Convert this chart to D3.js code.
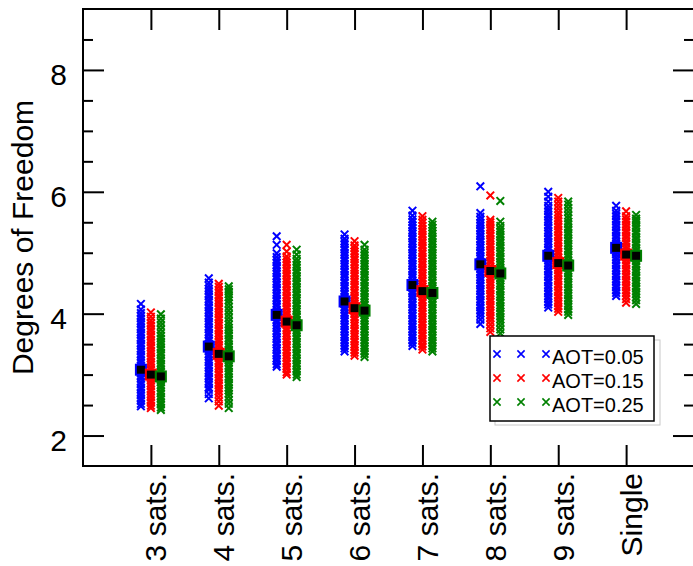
<!DOCTYPE html>
<html>
<head>
<meta charset="utf-8">
<script src="https://cdn.jsdelivr.net/npm/d3@7"></script>
<style>
  html, body { margin: 0; padding: 0; background: #fff; }
  svg { display: block; font-family: "Liberation Sans", Arial, Helvetica, sans-serif; }
</style>
</head>
<body>
<svg id="chart" width="693" height="566"></svg>
<script>
// kategorije in legenda
const categories = ["3 sats.", "4 sats.", "5 sats.", "6 sats.", "7 sats.", "8 sats.", "9 sats.", "Single"];
const aotLabels = ["AOT=0.05", "AOT=0.15", "AOT=0.25"];
const aotColors = ["#0000ff", "#ff0000", "#008000"];

// povprecja (crni kvadratki)
const meanAot05 = [3.08, 3.46, 3.98, 4.20, 4.47, 4.81, 4.95, 5.08];
const meanAot15 = [3.00, 3.34, 3.87, 4.09, 4.37, 4.70, 4.83, 4.97];
const meanAot25 = [2.97, 3.30, 3.81, 4.05, 4.34, 4.66, 4.79, 4.95];

// posamezne tocke, en seznam za vsako kategorijo
const dofAot05 = [
  [2.48,2.52,2.57,2.61,2.66,2.70,2.75,2.79,2.84,2.88,2.93,2.97,3.02,3.06,3.11,3.15,3.20,3.24,3.29,3.33,3.38,3.42,3.47,3.51,3.56,3.60,3.65,3.69,3.74,3.78,3.83,3.87,3.92,3.96,4.01,4.07,4.16],
  [2.61,2.68,2.75,2.79,2.84,2.88,2.93,2.97,3.02,3.06,3.11,3.15,3.20,3.24,3.29,3.33,3.38,3.42,3.47,3.51,3.56,3.60,3.65,3.69,3.74,3.78,3.83,3.87,3.92,3.96,4.01,4.05,4.10,4.14,4.19,4.23,4.28,4.32,4.37,4.41,4.46,4.51,4.58],
  [3.13,3.17,3.22,3.26,3.31,3.35,3.40,3.44,3.49,3.53,3.58,3.62,3.67,3.71,3.76,3.80,3.85,3.89,3.94,3.98,4.03,4.07,4.12,4.16,4.21,4.25,4.30,4.34,4.39,4.43,4.48,4.52,4.57,4.61,4.66,4.70,4.75,4.79,4.84,4.88,4.93,4.99,5.13,5.27],
  [3.38,3.43,3.47,3.52,3.56,3.61,3.65,3.70,3.74,3.79,3.83,3.88,3.92,3.97,4.01,4.06,4.10,4.15,4.19,4.24,4.28,4.33,4.37,4.42,4.46,4.51,4.55,4.60,4.64,4.69,4.73,4.78,4.82,4.87,4.91,4.96,5.00,5.05,5.09,5.14,5.18,5.23,5.30],
  [3.47,3.52,3.56,3.61,3.65,3.70,3.74,3.79,3.83,3.88,3.92,3.97,4.01,4.06,4.10,4.15,4.19,4.24,4.28,4.33,4.37,4.42,4.46,4.51,4.55,4.60,4.64,4.69,4.73,4.78,4.82,4.87,4.91,4.96,5.00,5.05,5.09,5.14,5.18,5.23,5.27,5.32,5.36,5.41,5.45,5.50,5.55,5.61,5.69],
  [3.83,3.90,3.96,4.01,4.05,4.10,4.14,4.19,4.23,4.28,4.32,4.37,4.41,4.46,4.50,4.55,4.59,4.64,4.68,4.73,4.77,4.82,4.86,4.91,4.95,5.00,5.04,5.09,5.13,5.18,5.22,5.27,5.31,5.36,5.40,5.45,5.49,5.54,5.59,5.65,6.09],
  [4.10,4.15,4.19,4.24,4.28,4.33,4.37,4.42,4.46,4.51,4.55,4.60,4.64,4.69,4.73,4.78,4.82,4.87,4.91,4.96,5.00,5.05,5.09,5.14,5.18,5.23,5.27,5.32,5.36,5.41,5.45,5.50,5.54,5.59,5.63,5.68,5.72,5.77,5.84,5.92,6.00],
  [4.29,4.34,4.38,4.43,4.47,4.52,4.56,4.61,4.65,4.70,4.74,4.79,4.83,4.88,4.92,4.97,5.01,5.06,5.10,5.15,5.19,5.24,5.28,5.33,5.37,5.42,5.46,5.51,5.55,5.60,5.64,5.69,5.77]
];
const dofAot15 = [
  [2.45,2.49,2.54,2.58,2.63,2.67,2.72,2.76,2.81,2.85,2.90,2.94,2.99,3.03,3.08,3.12,3.17,3.21,3.26,3.30,3.35,3.39,3.44,3.48,3.53,3.57,3.62,3.66,3.71,3.75,3.80,3.84,3.89,3.95,4.02],
  [2.49,2.56,2.62,2.68,2.73,2.77,2.82,2.86,2.91,2.95,3.00,3.04,3.09,3.13,3.18,3.22,3.27,3.31,3.36,3.40,3.45,3.49,3.54,3.58,3.63,3.67,3.72,3.76,3.81,3.85,3.90,3.94,3.99,4.03,4.08,4.12,4.17,4.21,4.26,4.30,4.35,4.39,4.44,4.49],
  [3.00,3.04,3.09,3.13,3.18,3.22,3.27,3.31,3.36,3.40,3.45,3.49,3.54,3.58,3.63,3.67,3.72,3.76,3.81,3.85,3.90,3.94,3.99,4.03,4.08,4.12,4.17,4.21,4.26,4.30,4.35,4.39,4.44,4.48,4.53,4.57,4.62,4.66,4.71,4.75,4.80,4.84,4.89,4.94,5.02,5.13],
  [3.31,3.36,3.40,3.45,3.49,3.54,3.58,3.63,3.67,3.72,3.76,3.81,3.85,3.90,3.94,3.99,4.03,4.08,4.12,4.17,4.21,4.26,4.30,4.35,4.39,4.44,4.48,4.53,4.57,4.62,4.66,4.71,4.75,4.80,4.84,4.89,4.93,4.98,5.02,5.07,5.12,5.19],
  [3.41,3.46,3.50,3.55,3.59,3.64,3.68,3.73,3.77,3.82,3.86,3.91,3.95,4.00,4.04,4.09,4.13,4.18,4.22,4.27,4.31,4.36,4.40,4.45,4.49,4.54,4.58,4.63,4.67,4.72,4.76,4.81,4.85,4.90,4.94,4.99,5.03,5.08,5.12,5.17,5.21,5.26,5.30,5.35,5.39,5.44,5.49,5.54,5.60],
  [3.70,3.76,3.82,3.88,3.93,3.97,4.02,4.06,4.11,4.15,4.20,4.24,4.29,4.33,4.38,4.42,4.47,4.51,4.56,4.60,4.65,4.69,4.74,4.78,4.83,4.87,4.92,4.96,5.01,5.05,5.10,5.14,5.19,5.23,5.28,5.32,5.37,5.41,5.46,5.50,5.54,5.94],
  [4.03,4.08,4.12,4.17,4.21,4.26,4.30,4.35,4.39,4.44,4.48,4.53,4.57,4.62,4.66,4.71,4.75,4.80,4.84,4.89,4.93,4.98,5.02,5.07,5.11,5.16,5.20,5.25,5.29,5.34,5.38,5.43,5.47,5.52,5.56,5.61,5.66,5.72,5.78,5.84,5.90],
  [4.18,4.24,4.29,4.34,4.38,4.43,4.47,4.52,4.56,4.61,4.65,4.70,4.74,4.79,4.83,4.88,4.92,4.97,5.01,5.06,5.10,5.15,5.19,5.24,5.28,5.33,5.37,5.42,5.46,5.51,5.55,5.60,5.68]
];
const dofAot25 = [
  [2.42,2.46,2.51,2.55,2.60,2.64,2.69,2.73,2.78,2.82,2.87,2.91,2.96,3.00,3.05,3.09,3.14,3.18,3.23,3.27,3.32,3.36,3.41,3.45,3.50,3.54,3.59,3.63,3.68,3.74,3.80,3.86,3.92,3.99],
  [2.45,2.52,2.58,2.64,2.69,2.74,2.78,2.83,2.87,2.92,2.96,3.01,3.05,3.10,3.14,3.19,3.23,3.28,3.32,3.37,3.41,3.46,3.50,3.55,3.59,3.64,3.68,3.73,3.77,3.82,3.87,3.93,3.99,4.05,4.11,4.17,4.22,4.27,4.32,4.36,4.40,4.45],
  [2.96,3.00,3.05,3.09,3.14,3.18,3.23,3.27,3.32,3.36,3.41,3.45,3.50,3.54,3.59,3.63,3.68,3.72,3.77,3.81,3.86,3.90,3.95,3.99,4.04,4.08,4.13,4.17,4.22,4.26,4.31,4.35,4.40,4.44,4.49,4.53,4.58,4.62,4.67,4.71,4.76,4.80,4.85,4.90,4.97,5.05],
  [3.29,3.34,3.38,3.43,3.47,3.52,3.56,3.61,3.65,3.70,3.74,3.79,3.83,3.88,3.92,3.97,4.01,4.06,4.10,4.15,4.19,4.24,4.28,4.33,4.37,4.42,4.46,4.51,4.55,4.60,4.64,4.69,4.73,4.78,4.82,4.87,4.91,4.96,5.00,5.05,5.13],
  [3.38,3.43,3.47,3.52,3.56,3.61,3.65,3.70,3.74,3.79,3.83,3.88,3.92,3.97,4.01,4.06,4.10,4.15,4.19,4.24,4.28,4.33,4.37,4.42,4.46,4.51,4.55,4.60,4.64,4.69,4.73,4.78,4.82,4.87,4.91,4.96,5.00,5.05,5.09,5.14,5.18,5.23,5.27,5.32,5.36,5.41,5.46,5.51],
  [3.68,3.74,3.80,3.86,3.91,3.95,4.00,4.04,4.09,4.13,4.18,4.22,4.27,4.31,4.36,4.40,4.45,4.49,4.54,4.58,4.63,4.67,4.72,4.76,4.81,4.85,4.90,4.94,4.99,5.03,5.08,5.12,5.17,5.21,5.26,5.30,5.35,5.39,5.44,5.51,5.85],
  [3.98,4.03,4.07,4.12,4.16,4.21,4.25,4.30,4.34,4.39,4.43,4.48,4.52,4.57,4.61,4.66,4.70,4.75,4.79,4.84,4.88,4.93,4.97,5.02,5.06,5.11,5.15,5.20,5.24,5.29,5.33,5.38,5.42,5.47,5.51,5.56,5.61,5.67,5.73,5.79,5.84],
  [4.16,4.22,4.27,4.32,4.36,4.41,4.45,4.50,4.54,4.59,4.63,4.68,4.72,4.77,4.81,4.86,4.90,4.95,4.99,5.04,5.08,5.13,5.17,5.22,5.26,5.31,5.35,5.40,5.44,5.49,5.53,5.56,5.62]
];

const yMajorTicks = [2, 4, 6, 8];
const yMinorTicks = [2.5, 3, 3.5, 4.5, 5, 5.5, 6.5, 7, 7.5, 8.5];

// postavitev
const plotLeft = 83, plotRight = 694, plotTop = 9, plotBottom = 466;
const fontSize = 30;
const svg = d3.select("#chart");
svg.append("rect").attr("width", 693).attr("height", 566).attr("fill", "#fff");

var x = d3.scaleLinear().domain([0, 9]).range([plotLeft, plotRight]);
var y = d3.scaleLinear().domain([1.5, 9]).range([plotBottom, plotTop]);

const series = [dofAot05, dofAot15, dofAot25];
const means = [meanAot05, meanAot15, meanAot25];
const offsets = [-0.147, 0, 0.147];

const xMark = "M-3.8,-3.8L3.8,3.8M-3.8,3.8L3.8,-3.8";

// tocke
const pts = svg.append("g");
categories.forEach((c, i) => {
  series.forEach((s, k) => {
    pts.selectAll(null)
      .data(s[i])
      .enter()
      .append("path")
      .attr("d", xMark)
      .attr("transform", v => `translate(${x(i + 1 + offsets[k])},${y(v)})`)
      .attr("fill", "none")
      .attr("stroke", aotColors[k])
      .attr("stroke-width", 2);
  });
});

// povprecja
means.forEach((m, k) => {
  svg.append("g").selectAll("rect")
    .data(m)
    .enter()
    .append("rect")
    .attr("x", (v, i) => x(i + 1 + offsets[k]) - 5)
    .attr("y", v => y(v) - 5)
    .attr("width", 10)
    .attr("height", 10)
    .attr("fill", "#000")
    .attr("stroke", aotColors[k])
    .attr("stroke-width", 2);
});

// osi
function styleAxis(g) {
  g.select(".domain").remove();
  g.selectAll("line").attr("stroke", "#000").attr("stroke-width", 2);
}

svg.append("g")
  .attr("transform", `translate(${plotLeft},0)`)
  .call(d3.axisLeft(y).tickValues(yMajorTicks).tickSize(-21).tickPadding(16).tickFormat(d3.format("d")))
  .call(styleAxis)
  .call(g => g.selectAll("text").attr("font-size", fontSize).attr("fill", "#000").attr("dy", "0.5em")
    .style("font-family", "'Liberation Sans', Arial, Helvetica, sans-serif"));

svg.append("g")
  .attr("transform", `translate(${plotLeft},0)`)
  .call(d3.axisLeft(y).tickValues(yMinorTicks).tickSize(-10).tickFormat(""))
  .call(styleAxis);

svg.append("g")
  .attr("transform", `translate(${plotRight},0)`)
  .call(d3.axisRight(y).tickValues(yMajorTicks).tickSize(-21).tickFormat(""))
  .call(styleAxis);

svg.append("g")
  .attr("transform", `translate(${plotRight},0)`)
  .call(d3.axisRight(y).tickValues(yMinorTicks).tickSize(-10).tickFormat(""))
  .call(styleAxis);

svg.append("g")
  .attr("transform", `translate(0,${plotBottom})`)
  .call(d3.axisBottom(x).tickValues(d3.range(1, 9)).tickSize(-21).tickFormat(i => categories[i - 1]))
  .call(styleAxis)
  .call(g => g.selectAll("text")
    .attr("y", null).attr("dy", null)
    .attr("text-anchor", "end")
    .attr("transform", "translate(15,7) rotate(-90)")
    .attr("font-size", fontSize).attr("fill", "#000")
    .style("font-family", "'Liberation Sans', Arial, Helvetica, sans-serif"));

svg.append("g")
  .attr("transform", `translate(0,${plotTop})`)
  .call(d3.axisTop(x).tickValues(d3.range(1, 9)).tickSize(-21).tickFormat(""))
  .call(styleAxis);

// okvir
svg.append("rect")
  .attr("x", plotLeft).attr("y", plotTop)
  .attr("width", plotRight - plotLeft).attr("height", plotBottom - plotTop)
  .attr("fill", "none").attr("stroke", "#000").attr("stroke-width", 2);

// naslov y osi
svg.append("text")
  .attr("transform", `translate(33,${(plotTop + plotBottom) / 2}) rotate(-90)`)
  .attr("text-anchor", "middle")
  .attr("font-size", fontSize)
  .text("Degrees of Freedom");

// legenda
const lg = svg.append("g");
lg.append("rect").attr("x", 495).attr("y", 340).attr("width", 165).attr("height", 85)
  .attr("fill", "none").attr("stroke", "#c8c8c8").attr("stroke-width", 1);
lg.append("rect").attr("x", 490).attr("y", 336).attr("width", 164).attr("height", 85)
  .attr("fill", "#fff").attr("stroke", "#000").attr("stroke-width", 1.5);
aotLabels.forEach((t, k) => {
  const cy = 354 + k * 24;
  [497, 521, 546].forEach(mx => {
    lg.append("path").attr("d", "M-3.6,-3.6L3.6,3.6M-3.6,3.6L3.6,-3.6")
      .attr("transform", `translate(${mx},${cy})`)
      .attr("fill", "none").attr("stroke", aotColors[k]).attr("stroke-width", 1.6);
  });
  lg.append("text").attr("x", 552).attr("y", cy + 10)
    .attr("font-size", 20).text(t);
});
</script>
</body>
</html>
